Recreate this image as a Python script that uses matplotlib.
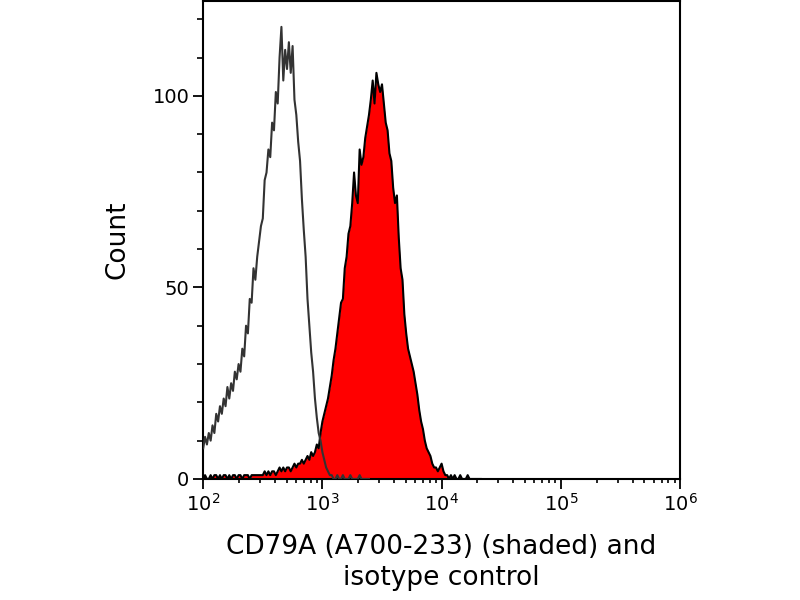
import numpy as np
import matplotlib
matplotlib.use('Agg')
from matplotlib import pyplot as plt
from matplotlib.ticker import FixedLocator

plt.rcParams['font.family'] = ['DejaVu Sans']

# histogram channels: 64 per decade starting at 10^2
bins_per_decade = 64

# isotype control (outline only)
isotype = [8, 11, 9, 12, 10, 14, 12, 17, 15, 19, 17, 21, 19, 24, 21, 25, 23, 28, 26, 30,
           28, 34, 32, 40, 38, 47, 46, 55, 52, 58, 62, 66, 68, 78, 80, 86, 84, 93, 91, 101,
           98, 110, 118, 104, 112, 107, 114, 106, 113, 99, 95, 88, 83, 73, 65, 58, 47, 40, 33, 28,
           21, 16, 12, 10, 7, 5, 3, 2, 1, 1, 0, 0, 1, 0, 0, 1, 0, 0, 0, 1,
           0, 0, 0, 0, 1, 0, 0, 0, 0, 0]

# CD79A (A700-233), shaded
cd79a = [0, 1, 0, 0, 1, 0, 1, 1, 0, 1, 0, 1, 1, 0, 1, 0, 1, 1, 0, 1,
         1, 0, 1, 1, 1, 0, 1, 1, 1, 1, 1, 1, 1, 2, 1, 2, 1, 2, 2, 1,
         2, 3, 2, 3, 2, 3, 3, 2, 3, 4, 3, 4, 4, 5, 4, 5, 6, 5, 7, 6,
         7, 9, 8, 12, 15, 17, 19, 21, 24, 27, 31, 34, 38, 42, 46, 47, 55, 58, 64, 66,
         72, 80, 74, 72, 86, 82, 84, 89, 92, 95, 99, 104, 98, 106, 103, 101, 103, 98, 93, 91,
         85, 83, 76, 72, 74, 63, 55, 52, 43, 38, 34, 32, 30, 28, 25, 22, 18, 15, 13, 10,
         8, 7, 6, 4, 3, 3, 2, 3, 4, 2, 1, 1, 0, 1, 0, 1, 0, 0, 1, 0,
         0, 0, 1, 0, 0, 0, 0, 0, 0, 0]

x_iso = 10 ** (2 + np.arange(len(isotype)) / bins_per_decade)
x_cd = 10 ** (2 + np.arange(len(cd79a)) / bins_per_decade)

fig = plt.figure(figsize=(8, 6), dpi=100)
ax = fig.add_axes([0.254, 0.2017, 0.596, 0.7963])

ax.fill_between(x_cd, cd79a, 0, color='#ff0000', lw=0, zorder=1)
ax.plot(x_cd, cd79a, color='black', lw=1.5, zorder=2)
ax.plot(x_iso, isotype, color='#333333', lw=1.5, zorder=3)

ax.set_xscale('log')
ax.set_xlim(1e2, 1e6)
ax.set_ylim(0, 124.7)

ax.set_xticks([1e2, 1e3, 1e4, 1e5, 1e6])
ax.set_xticklabels(['10$^{2}$', '10$^{3}$', '10$^{4}$', '10$^{5}$', '10$^{6}$'])
ax.set_yticks([0, 50, 100])
ax.yaxis.set_minor_locator(FixedLocator([10, 20, 30, 40, 60, 70, 80, 90, 110, 120]))

ax.tick_params(which='major', length=7, width=1.3, labelsize=14, direction='out', pad=3)
ax.tick_params(which='minor', length=4, width=1.2, direction='out')
ax.tick_params(axis='x', which='minor', length=3)
for s in ax.spines.values():
    s.set_linewidth(1.5)

ax.set_ylabel('Count', fontsize=19, labelpad=16)
ax.set_xlabel('CD79A (A700-233) (shaded) and\nisotype control', fontsize=19, labelpad=14,
              linespacing=1.25)

fig.savefig('out.png', dpi=100)
